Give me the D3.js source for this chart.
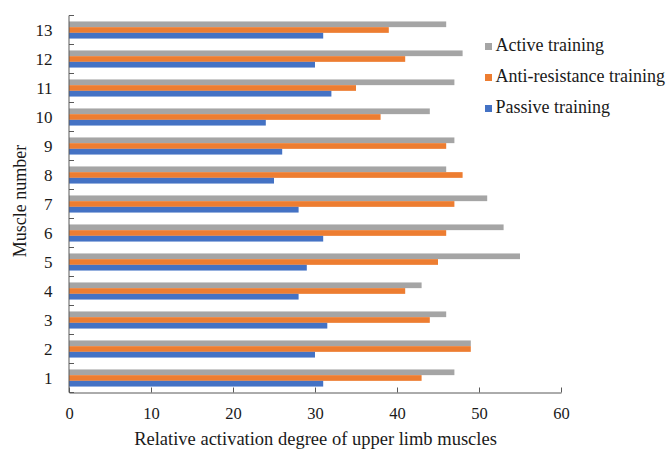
<!DOCTYPE html>
<html>
<head>
<meta charset="utf-8">
<script src="https://cdn.jsdelivr.net/npm/d3@7/dist/d3.min.js"></script>
<style>
  html, body { margin: 0; padding: 0; background: #fff; }
</style>
</head>
<body>
<svg id="chart" width="669" height="450" font-family="Liberation Serif"></svg>
<script>
const muscles = ["1","2","3","4","5","6","7","8","9","10","11","12","13"];
const seriesNames = ["Active training", "Anti-resistance training", "Passive training"];
const seriesColors = ["#A5A5A5", "#ED7D31", "#4472C4"];
const activeTraining =         [47, 49, 46, 43, 55, 53, 51, 46, 47, 44, 47, 48, 46];
const antiResistanceTraining = [43, 49, 44, 41, 45, 46, 47, 48, 46, 38, 35, 41, 39];
const passiveTraining =        [31, 30, 31.5, 28, 29, 31, 28, 25, 26, 24, 32, 30, 31];
const xTicks = [0, 10, 20, 30, 40, 50, 60];

const seriesValues = [activeTraining, antiResistanceTraining, passiveTraining];
const FONT = "Liberation Serif";
const TXT = "#1a1a1a";

const svg = d3.select("#chart");
const mLeft = 69, mRight = 561, mTop = 15.5, mBottom = 392.5;

const x = d3.scaleLinear().domain([0, 60]).range([mLeft, mRight]);
const y = d3.scaleBand().domain(muscles.slice().reverse()).range([mTop, mBottom]).paddingInner(0.41).paddingOuter(0.205);
const ySub = d3.scaleBand().domain(seriesNames).range([0, y.bandwidth()]);

// bars
const groups = svg.append("g").selectAll("g")
  .data(muscles)
  .join("g")
  .attr("transform", d => `translate(0,${y(d)})`);

groups.selectAll("rect")
  .data((d, i) => seriesNames.map((s, k) => ({ s, k, v: seriesValues[k][i] })))
  .join("rect")
  .attr("x", x(0))
  .attr("y", d => ySub(d.s))
  .attr("width", d => x(d.v) - x(0))
  .attr("height", ySub.bandwidth())
  .attr("fill", d => seriesColors[d.k]);

// x axis
const xAxis = d3.axisBottom(x).tickValues(xTicks).tickSizeInner(-5).tickSizeOuter(0).tickPadding(14.5);
const gx = svg.append("g").attr("transform", `translate(0,${mBottom})`).call(xAxis)
  .attr("font-family", FONT).attr("font-size", 16.5);
gx.select(".domain").attr("stroke", "#595959");
gx.selectAll(".tick line").attr("stroke", "#595959");
gx.selectAll("text").attr("font-size", 16.5).attr("font-family", FONT).attr("fill", TXT);

// y axis
const yBoundaries = d3.range(muscles.length + 1).map(i => mTop + i * (mBottom - mTop) / muscles.length);
svg.append("line").attr("x1", mLeft).attr("x2", mLeft).attr("y1", mTop).attr("y2", mBottom).attr("stroke", "#595959");
svg.append("g").selectAll("line").data(yBoundaries).join("line")
  .attr("x1", mLeft).attr("x2", mLeft + 5)
  .attr("y1", d => d).attr("y2", d => d)
  .attr("stroke", "#595959");
svg.append("g").selectAll("text").data(muscles).join("text")
  .attr("x", 52.5)
  .attr("y", d => y(d) + y.bandwidth() / 2)
  .attr("dy", "0.35em")
  .attr("text-anchor", "end")
  .attr("font-size", 17)
  .attr("font-family", FONT).attr("fill", TXT)
  .text(d => d);

// axis titles
svg.append("text").attr("x", 315.5).attr("y", 445).attr("text-anchor", "middle").attr("font-size", 18.5)
  .attr("font-family", FONT).attr("fill", TXT)
  .text("Relative activation degree of upper limb muscles");
svg.append("text").attr("transform", "translate(25.5,201) rotate(-90)").attr("text-anchor", "middle").attr("font-size", 18)
  .attr("font-family", FONT).attr("fill", TXT)
  .text("Muscle number");

// legend
const legend = svg.append("g").selectAll("g").data(seriesNames).join("g")
  .attr("transform", (d, i) => `translate(485,${51 + i * 31})`);
legend.append("rect").attr("x", 0).attr("y", -8).attr("width", 7).attr("height", 7).attr("fill", (d, i) => seriesColors[i]);
legend.append("text").attr("x", 10.5).attr("y", 0).attr("font-size", 18)
  .attr("font-family", FONT).attr("fill", TXT).text(d => d);
</script>
</body>
</html>
